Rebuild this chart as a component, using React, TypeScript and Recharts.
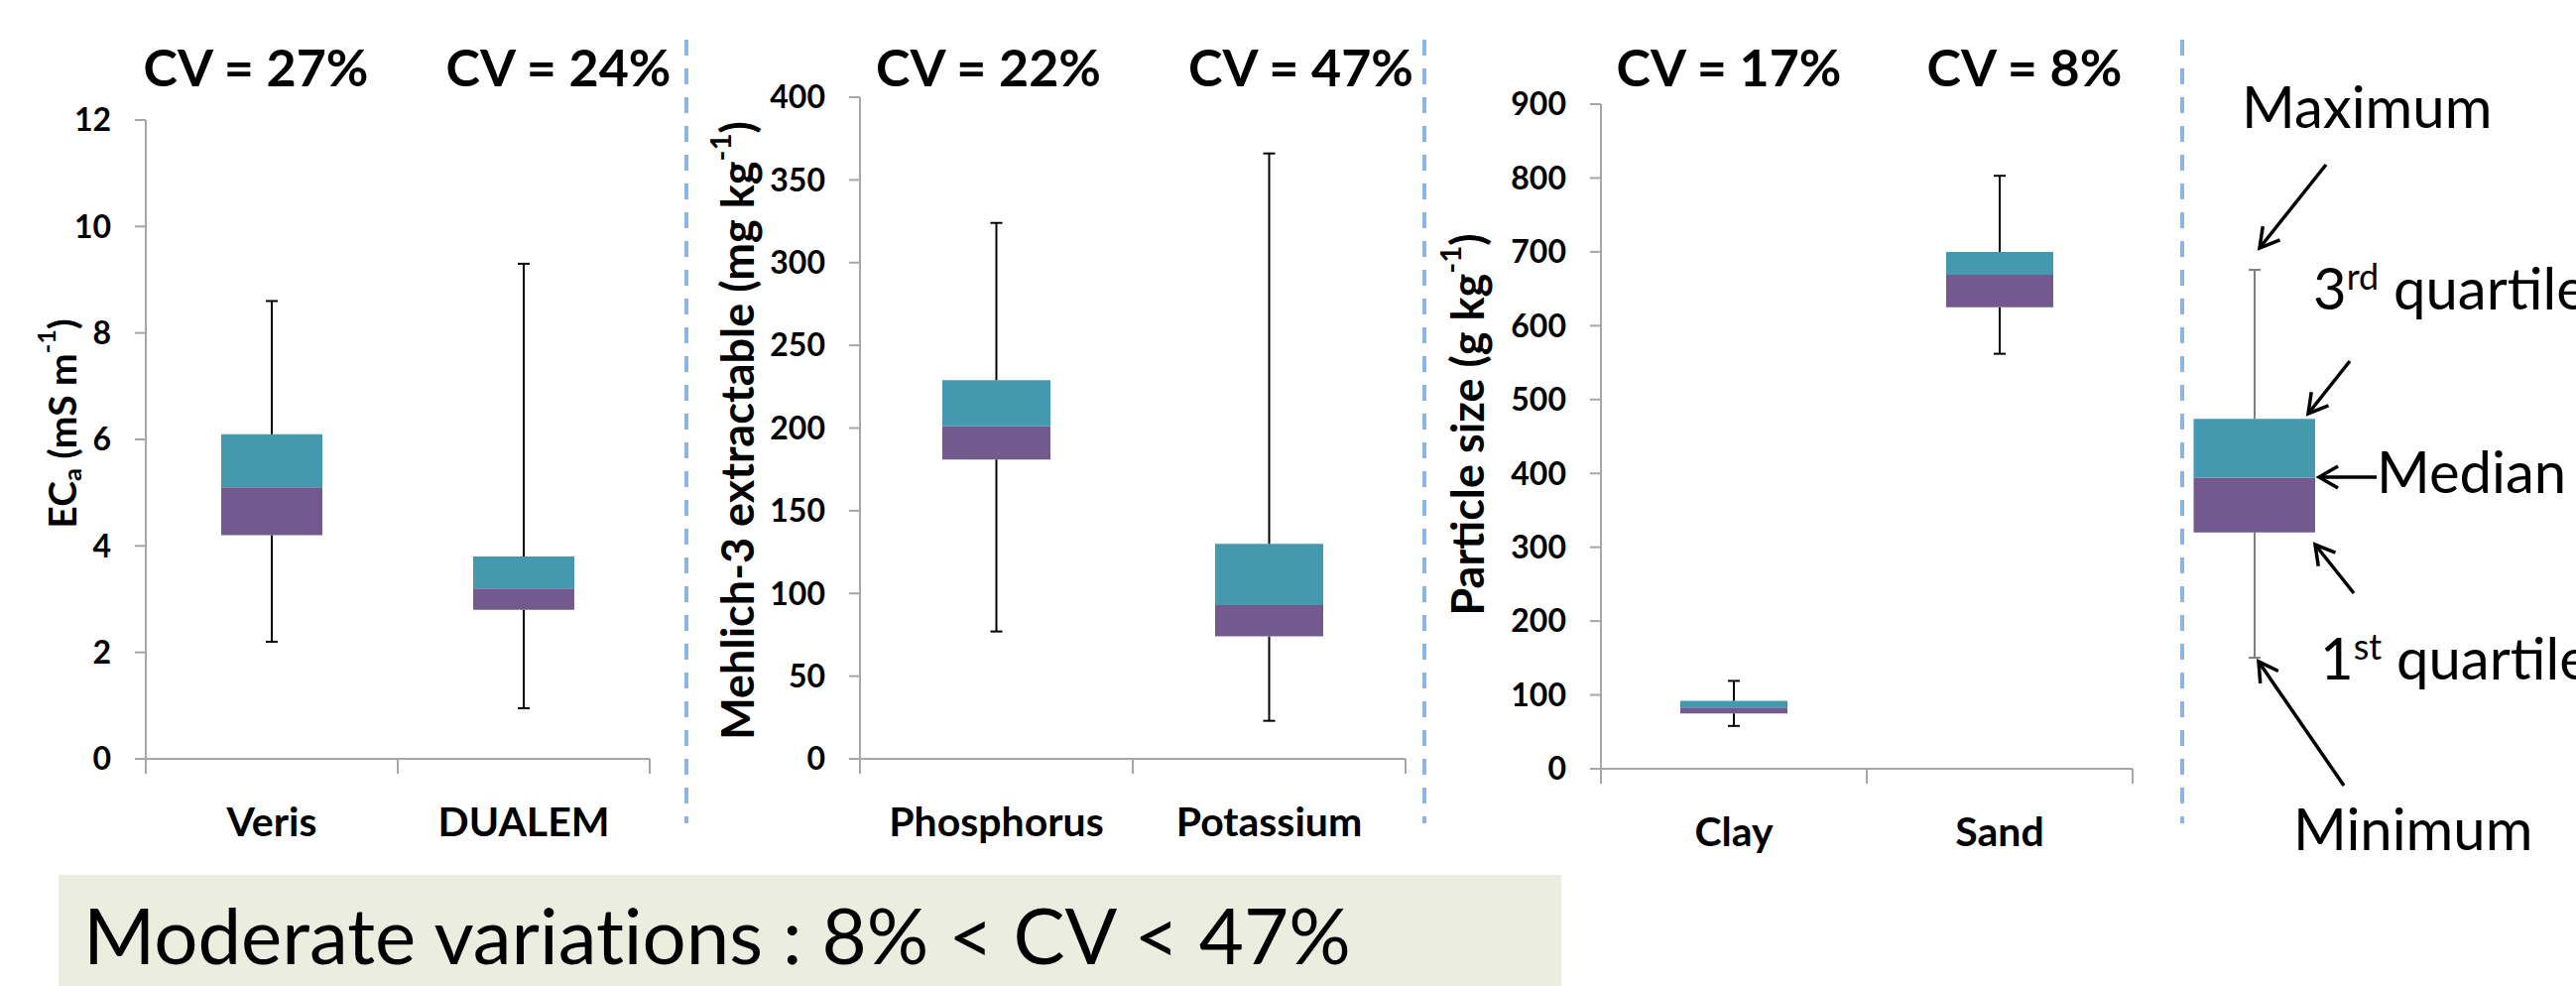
import React from 'react'
import { ComposedChart, Bar, XAxis, YAxis, LabelList } from 'recharts'

const FONT = 'Lato, "Open Sans", sans-serif'
const TEAL = '#4499AF'
const PURPLE = '#725A8E'
const AXIS = '#A6A6A6'
const DASH = '#8DB4E2'
const CV_BASELINE = 87

// ECa
const ecNames = ['Veris', 'DUALEM']
const ecCv = ['CV = 27%', 'CV = 24%']
const ecMin = [2.2, 0.95]
const ecQ1 = [4.2, 2.8]
const ecMedian = [5.1, 3.2]
const ecQ3 = [6.1, 3.8]
const ecMax = [8.6, 9.3]
const ecTicks = [0, 2, 4, 6, 8, 10, 12]

// Mehlich-3 extractable
const m3Names = ['Phosphorus', 'Potassium']
const m3Cv = ['CV = 22%', 'CV = 47%']
const m3Min = [77, 23]
const m3Q1 = [181, 74]
const m3Median = [201, 93]
const m3Q3 = [229, 130]
const m3Max = [324, 366]
const m3Ticks = [0, 50, 100, 150, 200, 250, 300, 350, 400]

// particle size
const psNames = ['Clay', 'Sand']
const psCv = ['CV = 17%', 'CV = 8%']
const psMin = [58, 562]
const psQ1 = [75, 625]
const psMedian = [83, 669]
const psQ3 = [92, 700]
const psMax = [119, 803]
const psTicks = [0, 100, 200, 300, 400, 500, 600, 700, 800, 900]

// schematic box for the key (arbitrary units)
const keyMin = [21]
const keyQ1 = [37]
const keyMedian = [44]
const keyQ3 = [51.5]
const keyMax = [70.5]

function buildRows(min: number[], q1: number[], med: number[], q3: number[], max: number[], cv: string[] = []) {
  return min.map((m, i) => ({
    pos: i + 0.5,
    cv: cv[i] ?? '',
    base: m,
    lower: q1[i] - m,
    lowBox: med[i] - q1[i],
    highBox: q3[i] - med[i],
    upper: max[i] - q3[i],
  }))
}

const makeWhisker = (capAt: 'top' | 'bottom', color: string) => (p: any) => {
  const cx = p.x + p.width / 2
  const capY = capAt === 'top' ? p.y : p.y + p.height
  return (
    <g>
      <line x1={cx} x2={cx} y1={p.y} y2={p.y + p.height} stroke={color} strokeWidth={2} />
      <line x1={cx - 6} x2={cx + 6} y1={capY} y2={capY} stroke={color} strokeWidth={2} />
    </g>
  )
}

type Part = { t: string; sub?: boolean; sup?: boolean }

function titleSpans(parts: Part[], size: number) {
  return parts.map((p, i) => {
    if (p.sub) return <tspan key={i} fontSize={size * 0.65} dy={size * 0.25}>{p.t}</tspan>
    if (p.sup) return <tspan key={i} fontSize={size * 0.65} dy={-size * 0.4}>{p.t}</tspan>
    const prev = parts[i - 1]
    const dy = prev?.sub ? -size * 0.25 : prev?.sup ? size * 0.4 : 0
    return <tspan key={i} dy={dy}>{p.t}</tspan>
  })
}

type PanelProps = {
  rows: any[]
  names: string[]
  cvShift: number[]
  ticks: number[]
  left: number
  width: number
  yWidth: number
  plotTop: number
  plotBottom: number
  right: number
  barSize: number
  title: Part[]
  titleSize: number
  titleX: number
  titleY: number
}

function BoxPanel(props: PanelProps) {
  const { rows, names, cvShift, ticks, left, width, yWidth, plotTop, plotBottom, right, barSize, title, titleSize, titleX, titleY } = props
  const height = 880
  const ymax = ticks[ticks.length - 1]
  return (
    <div style={{ position: 'absolute', left, top: 0 }}>
      <ComposedChart
        width={width}
        height={height}
        data={rows}
        margin={{ top: plotTop, right, bottom: 0, left: 0 }}
        style={{ fontFamily: FONT }}
      >
        <XAxis
          dataKey="pos"
          type="number"
          domain={[0, 2]}
          allowDataOverflow
          ticks={[0, 0.5, 1, 1.5, 2]}
          interval={0}
          height={height - plotBottom}
          axisLine={{ stroke: AXIS, strokeWidth: 2 }}
          tickLine={false}
          tickSize={0}
          tickMargin={0}
          tick={(p: any) => {
            const v = p.payload.value
            if (Number.isInteger(v)) {
              return <line x1={p.x} x2={p.x} y1={p.y} y2={p.y + 15} stroke={AXIS} strokeWidth={2} />
            }
            return (
              <text x={p.x} y={p.y + 78} textAnchor="middle" fontFamily={FONT} fontWeight={700} fontSize={41} fill="#000">
                {names[Math.floor(v)]}
              </text>
            )
          }}
        />
        <YAxis
          type="number"
          domain={[0, ymax]}
          ticks={ticks}
          interval={0}
          allowDataOverflow
          width={yWidth}
          axisLine={{ stroke: AXIS, strokeWidth: 2 }}
          tickLine={{ stroke: AXIS, strokeWidth: 2 }}
          tickSize={11}
          tickMargin={24}
          tick={{ fill: '#000', fontSize: 32, fontWeight: 700, fontFamily: FONT }}
          label={{
            content: () => (
              <text
                x={titleX}
                y={titleY}
                transform={`rotate(-90, ${titleX}, ${titleY})`}
                textAnchor="middle"
                dominantBaseline="central"
                fontFamily={FONT}
                fontWeight={700}
                fontSize={titleSize}
                fill="#000"
              >
                {titleSpans(title, titleSize)}
              </text>
            ),
          }}
        />
        <Bar dataKey="base" stackId="b" fill="transparent" barSize={barSize} isAnimationActive={false} />
        <Bar dataKey="lower" stackId="b" shape={makeWhisker('bottom', '#000')} barSize={barSize} isAnimationActive={false} />
        <Bar dataKey="lowBox" stackId="b" fill={PURPLE} barSize={barSize} isAnimationActive={false} />
        <Bar dataKey="highBox" stackId="b" fill={TEAL} barSize={barSize} isAnimationActive={false} />
        <Bar dataKey="upper" stackId="b" shape={makeWhisker('top', '#000')} barSize={barSize} isAnimationActive={false}>
          <LabelList
            dataKey="cv"
            content={(lp: any) => {
              const i = Number(lp.index)
              const cx = Number(lp.x) + Number(lp.width) / 2 + (cvShift[i] ?? 0)
              return (
                <text x={cx} y={CV_BASELINE} textAnchor="middle" fontFamily={FONT} fontWeight={700} fontSize={52} fill="#000">
                  {lp.value}
                </text>
              )
            }}
          />
        </Bar>
      </ComposedChart>
    </div>
  )
}

function Arrow({ x1, y1, x2, y2 }: { x1: number; y1: number; x2: number; y2: number }) {
  const a = Math.atan2(y2 - y1, x2 - x1)
  const L = 22
  const s = Math.PI / 6
  const p1 = `${x2 - L * Math.cos(a - s)},${y2 - L * Math.sin(a - s)}`
  const p2 = `${x2 - L * Math.cos(a + s)},${y2 - L * Math.sin(a + s)}`
  return (
    <g stroke="#000" strokeWidth={3.5} fill="none">
      <line x1={x1} y1={y1} x2={x2} y2={y2} />
      <polyline points={`${p1} ${x2},${y2} ${p2}`} />
    </g>
  )
}

export default function App() {
  const ecRows = buildRows(ecMin, ecQ1, ecMedian, ecQ3, ecMax, ecCv)
  const m3Rows = buildRows(m3Min, m3Q1, m3Median, m3Q3, m3Max, m3Cv)
  const psRows = buildRows(psMin, psQ1, psMedian, psQ3, psMax, psCv)
  const keyRows = buildRows(keyMin, keyQ1, keyMedian, keyQ3, keyMax)

  const legendText = { fontFamily: FONT, fontSize: 58, fill: '#000' }

  return (
    <div style={{ position: 'absolute', left: 0, top: 0, width: 2597, height: 994, background: '#fff', overflow: 'hidden' }}>
      <BoxPanel
        rows={ecRows}
        names={ecNames}
        cvShift={[-16, 35]}
        ticks={ecTicks}
        left={0}
        width={690}
        yWidth={147}
        plotTop={121}
        plotBottom={765}
        right={35}
        barSize={102}
        title={[{ t: 'EC' }, { t: 'a', sub: true }, { t: ' (mS m' }, { t: '-1', sup: true }, { t: ')' }]}
        titleSize={39}
        titleX={62}
        titleY={427}
      />
      <BoxPanel
        rows={m3Rows}
        names={m3Names}
        cvShift={[-8, 32]}
        ticks={m3Ticks}
        left={700}
        width={740}
        yWidth={167}
        plotTop={98}
        plotBottom={765}
        right={23}
        barSize={109}
        title={[{ t: 'Mehlich-3 extractable (mg kg' }, { t: '-1', sup: true }, { t: ')' }]}
        titleSize={45}
        titleX={43}
        titleY={434}
      />
      <BoxPanel
        rows={psRows}
        names={psNames}
        cvShift={[-5, 25]}
        ticks={psTicks}
        left={1440}
        width={760}
        yWidth={174}
        plotTop={105}
        plotBottom={775}
        right={50}
        barSize={108}
        title={[{ t: 'Particle size (g kg' }, { t: '-1', sup: true }, { t: ')' }]}
        titleSize={45}
        titleX={39}
        titleY={428}
      />
      <div style={{ position: 'absolute', left: 2200, top: 0 }}>
        <ComposedChart width={397} height={880} data={keyRows} margin={{ top: 39, right: 263, bottom: 51, left: 11 }}>
          <XAxis dataKey="pos" type="number" domain={[0, 1]} allowDataOverflow hide />
          <YAxis type="number" domain={[0, 100]} allowDataOverflow hide />
          <Bar dataKey="base" stackId="k" fill="transparent" barSize={123} isAnimationActive={false} />
          <Bar dataKey="lower" stackId="k" shape={makeWhisker('bottom', '#7F7F7F')} barSize={123} isAnimationActive={false} />
          <Bar dataKey="lowBox" stackId="k" fill={PURPLE} barSize={123} isAnimationActive={false} />
          <Bar dataKey="highBox" stackId="k" fill={TEAL} barSize={123} isAnimationActive={false} />
          <Bar dataKey="upper" stackId="k" shape={makeWhisker('top', '#7F7F7F')} barSize={123} isAnimationActive={false} />
        </ComposedChart>
      </div>
      <svg width={2597} height={994} style={{ position: 'absolute', left: 0, top: 0, pointerEvents: 'none' }}>
        {[692, 1436, 2200].map((x) => (
          <line key={x} x1={x} x2={x} y1={40} y2={830} stroke={DASH} strokeWidth={4} strokeDasharray="16 13" />
        ))}
        <text x={2260} y={129} {...legendText}>Maximum</text>
        <text x={2332} y={312} {...legendText}>
          3<tspan fontSize={36} dy={-20}>rd</tspan>
          <tspan dy={20}> quartile</tspan>
        </text>
        <text x={2396} y={497} {...legendText}>Median</text>
        <text x={2339} y={685} {...legendText}>
          1<tspan fontSize={36} dy={-20}>st</tspan>
          <tspan dy={20}> quartile</tspan>
        </text>
        <text x={2312} y={857} {...legendText}>Minimum</text>
        <Arrow x1={2345} y1={166} x2={2278} y2={250} />
        <Arrow x1={2369} y1={364} x2={2327} y2={417} />
        <Arrow x1={2396} y1={481} x2={2338} y2={481} />
        <Arrow x1={2373} y1={598} x2={2334} y2={549} />
        <Arrow x1={2363} y1={792} x2={2277} y2={667} />
        <rect x={59} y={882} width={1515} height={112} fill="#EBEEDE" />
        <text x={84} y={972} fontFamily={FONT} fontSize={78} fill="#000" style={{ fontVariantLigatures: 'none' }}>
          Moderate variations : 8% &lt; CV &lt; 47%
        </text>
      </svg>
    </div>
  )
}
